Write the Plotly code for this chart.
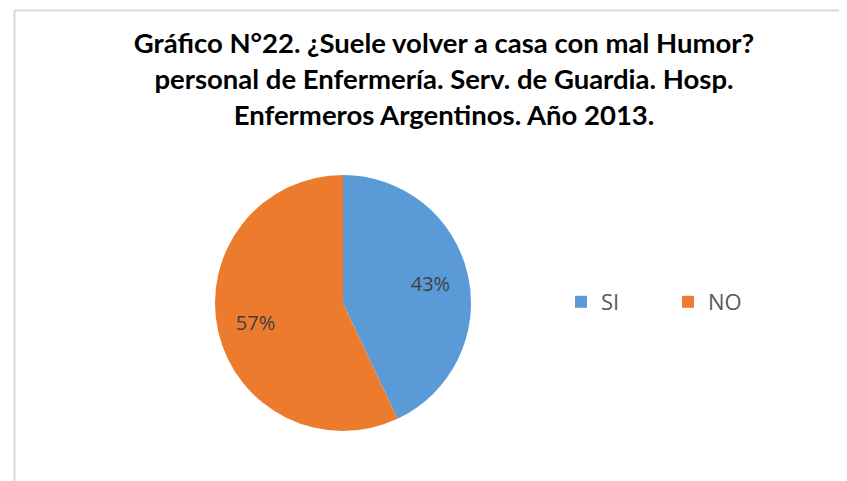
import plotly.graph_objects as go

labels = ["SI", "NO"]
values = [43, 57]
colors = ["#5a9bd7", "#ed7b2d"]
title_lines = [
    "Gráfico N°22. ¿Suele volver a casa con mal Humor?",
    "personal de Enfermería. Serv. de Guardia. Hosp.",
    "Enfermeros Argentinos. Año 2013.",
]

W, H = 847, 481
cx, cy, r = 335, 295, 128
domain = dict(x=[(cx - r) / W, (cx + r) / W], y=[(H - cy - r) / H, (H - cy + r) / H])

fig = go.Figure()
# visible pie
fig.add_trace(go.Pie(
    labels=labels,
    values=values,
    sort=False,
    direction="clockwise",
    rotation=0,
    marker=dict(colors=colors, line=dict(width=0)),
    textinfo="none",
    domain=domain,
    hoverinfo="label+percent",
))
# transparent ring that carries the percentage labels at ~0.7 radius
fig.add_trace(go.Pie(
    labels=labels,
    values=values,
    sort=False,
    direction="clockwise",
    rotation=0,
    hole=0.4,
    marker=dict(colors=["rgba(0,0,0,0)"] * len(values), line=dict(width=0)),
    textinfo="percent",
    texttemplate="%{percent:.0%}",
    textposition="inside",
    insidetextorientation="horizontal",
    textfont=dict(family="Open Sans", size=20, color="#404040"),
    domain=domain,
    showlegend=False,
    hoverinfo="skip",
))

fig.update_layout(
    width=W, height=H,
    margin=dict(l=0, r=0, t=0, b=0),
    paper_bgcolor="white",
    uniformtext=dict(minsize=20, mode="show"),
    title=dict(
        text="<br>".join(title_lines),
        x=436 / W, xanchor="center",
        y=1 - 45 / H, yanchor="top", yref="container",
        font=dict(family="Lato", size=27.5, color="#000000", weight="bold"),
    ),
    legend=dict(
        orientation="h",
        x=553 / W, xanchor="left",
        y=1 - 294 / H, yanchor="middle",
        font=dict(family="Open Sans", size=22, color="#595959"),
        entrywidth=62, entrywidthmode="pixels",
        traceorder="normal",
    ),
    shapes=[
        dict(type="line", xref="paper", yref="paper", x0=6.5 / W, x1=1, y0=1 - 2.5 / H, y1=1 - 2.5 / H,
             line=dict(color="#d9d9d9", width=2)),
        dict(type="line", xref="paper", yref="paper", x0=6.5 / W, x1=6.5 / W, y0=0, y1=1 - 2.5 / H,
             line=dict(color="#d9d9d9", width=2)),
    ],
)

fig.write_html("out.html")
